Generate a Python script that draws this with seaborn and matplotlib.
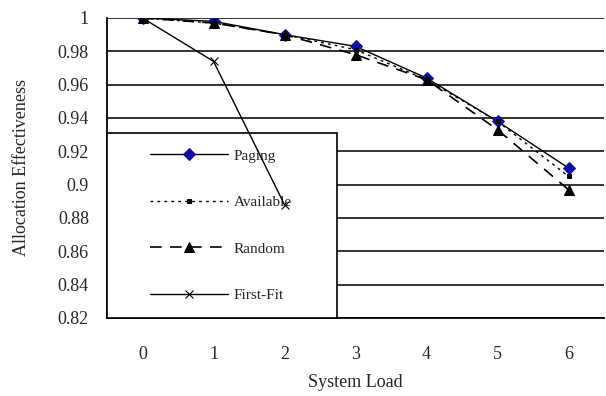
import matplotlib
matplotlib.use("Agg")
import matplotlib.pyplot as plt
from matplotlib.patches import Rectangle
import seaborn as sns
import pandas as pd

loads = [0, 1, 2, 3, 4, 5, 6]
paging = [1.000, 0.998, 0.990, 0.983, 0.964, 0.938, 0.910]
available = [1.000, 0.997, 0.990, 0.981, 0.963, 0.938, 0.905]
random_ = [1.000, 0.997, 0.990, 0.978, 0.963, 0.933, 0.897]
firstfit_loads = [0, 1, 2]
firstfit = [1.000, 0.974, 0.888]
yticks = [0.82, 0.84, 0.86, 0.88, 0.9, 0.92, 0.94, 0.96, 0.98, 1]
ytick_labels = ["0.82", "0.84", "0.86", "0.88", "0.9", "0.92", "0.94", "0.96", "0.98", "1"]

sns.set_style("white")
plt.rcParams['font.family'] = ['Liberation Serif', 'DejaVu Serif']

fig = plt.figure(figsize=(6.06, 3.96), dpi=100)
ax = fig.add_axes([107/606, 1-318/396, 497/606, 300/396])

sns.lineplot(x=loads, y=paging, ax=ax, color="black", lw=1.0, marker="D",
             markersize=6, markerfacecolor="#1010a0", markeredgecolor="#1010a0",
             label="Paging", zorder=3)
sns.lineplot(x=loads, y=available, ax=ax, color="black", lw=1.0, linestyle=(0, (2, 3)),
             marker="s", markersize=3, markerfacecolor="black", markeredgecolor="black",
             label="Available", zorder=3)
sns.lineplot(x=loads, y=random_, ax=ax, color="black", lw=1.2, linestyle=(0, (7, 5)),
             marker="^", markersize=7, markerfacecolor="black", markeredgecolor="black",
             label="Random", zorder=3)
sns.lineplot(x=firstfit_loads, y=firstfit, ax=ax, color="black", lw=1.0,
             marker="x", markersize=6, markeredgewidth=0.8, markeredgecolor="black",
             label="First-Fit", zorder=7)

ax.set_xlim(-0.5, 6.5)
ax.set_ylim(0.82, 1.0)
ax.set_yticks(yticks)
ax.set_yticklabels(ytick_labels)
ax.set_xticks(loads)
ax.set_xticklabels([str(v) for v in loads])
ax.set_xticks([v - 0.5 for v in loads] + [6.5], minor=True)
ax.tick_params(axis="x", which="major", length=0, labelsize=13, pad=20)
ax.tick_params(axis="x", which="minor", length=6, width=1.2, direction="out", color="black")
ax.tick_params(axis="y", which="major", length=8, width=1.2, direction="inout",
               color="black", labelsize=13, pad=9)
ax.yaxis.grid(True, color="#222222", lw=1.3, zorder=0)
ax.set_axisbelow(True)
for s in ["top", "right"]:
    ax.spines[s].set_visible(False)
for s in ["left", "bottom"]:
    ax.spines[s].set_color("black")
    ax.spines[s].set_linewidth(1.3)

ax.set_xlabel("System Load", fontsize=13, labelpad=8)
ax.set_ylabel("Allocation Effectiveness", fontsize=13, labelpad=20)

# legend frame
ax.add_patch(Rectangle((0, 0), (337-107)/497, (318-133)/300, transform=ax.transAxes,
                       facecolor="white", edgecolor="black", lw=1.2, zorder=4.5,
                       clip_on=False))
leg = ax.legend(loc="upper left", bbox_to_anchor=((150-107)/497, (318-149)/300),
                frameon=False, fontsize=11, borderpad=0, borderaxespad=0,
                handlelength=5.1, handletextpad=0.4, labelspacing=2.15)
leg.set_zorder(5)

fig.savefig("out.png", dpi=100)
